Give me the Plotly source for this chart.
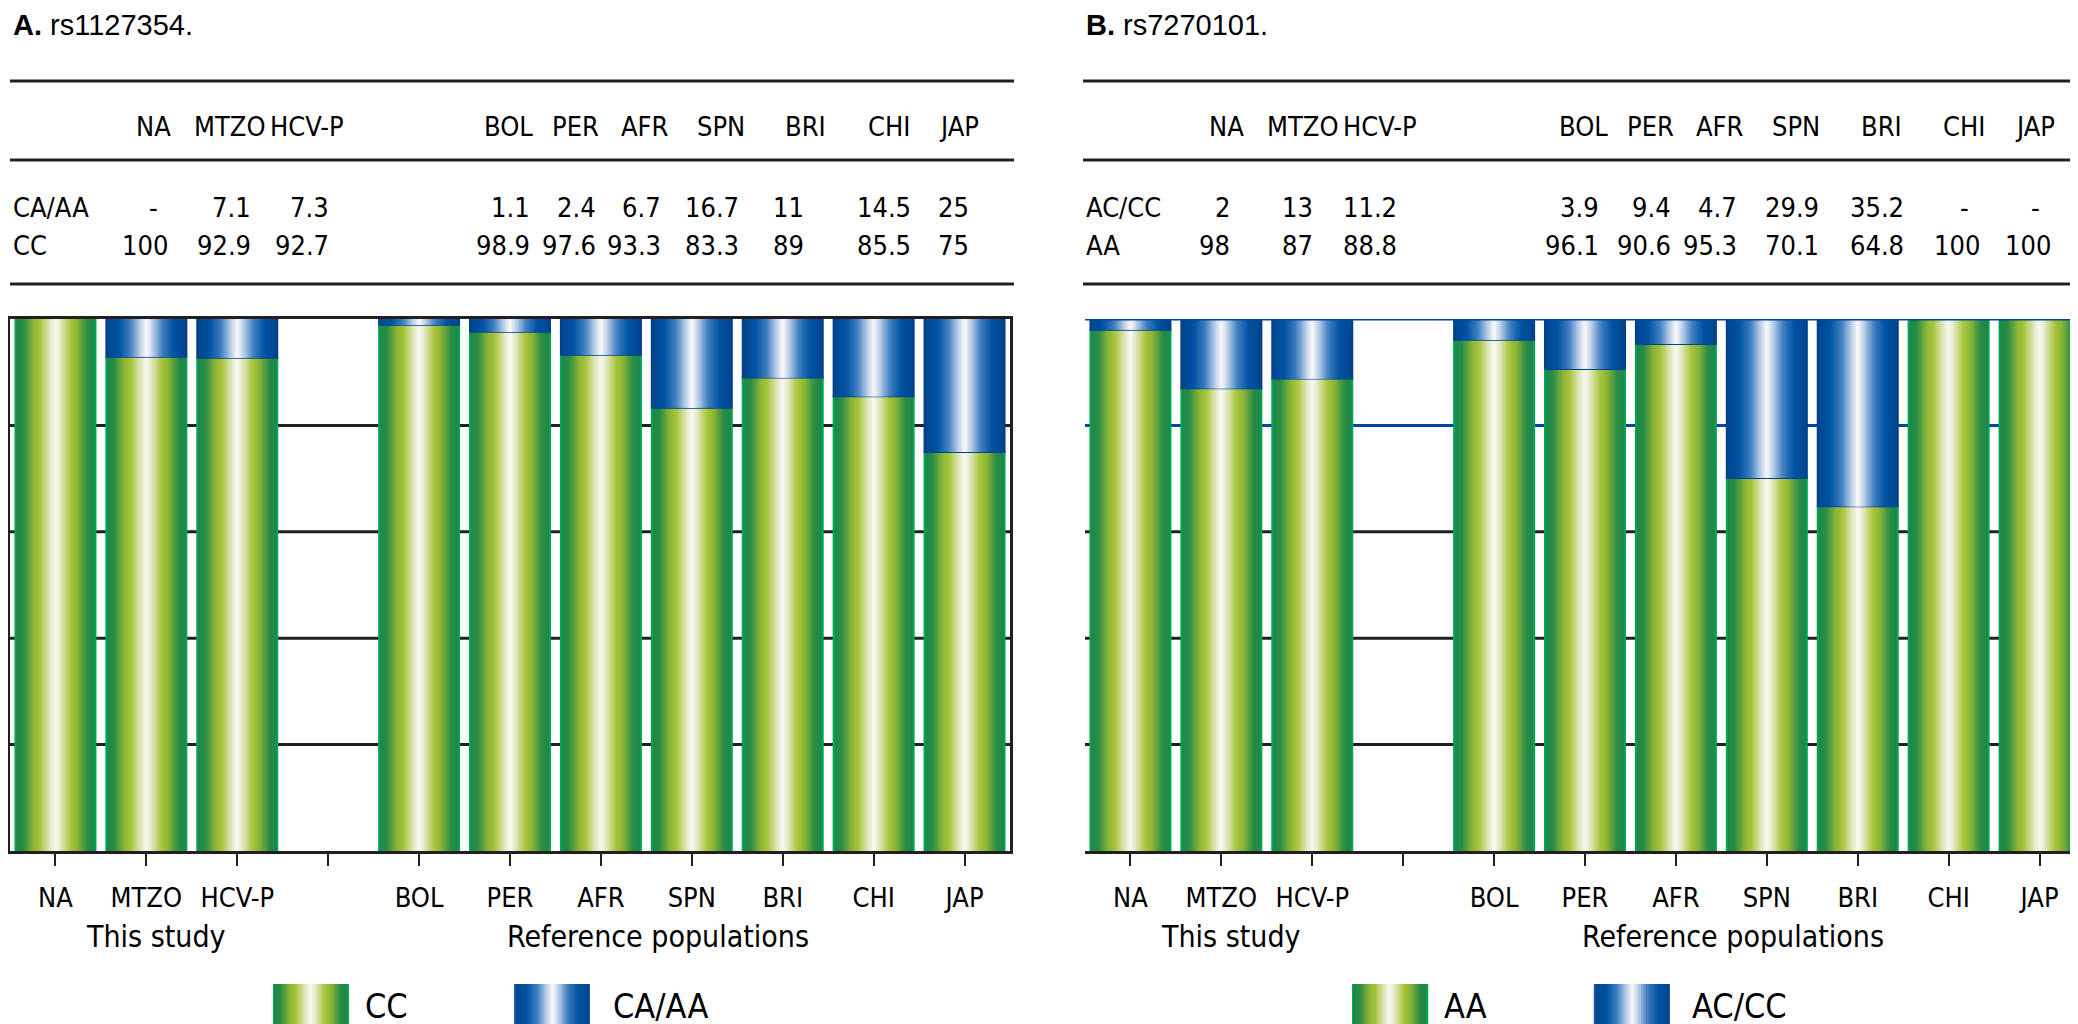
import plotly.graph_objects as go

W, H = 2078, 1024

study_pops = ["NA", "MTZO", "HCV-P"]
ref_pops = ["BOL", "PER", "AFR", "SPN", "BRI", "CHI", "JAP"]
populations = study_pops + ref_pops
gap_slot = " "  # empty slot between the two groups
cat_order = study_pops + [gap_slot] + ref_pops

# rs1127354 genotype frequencies (%), None = "-"
rs1127354_ca_aa = [None, 7.1, 7.3, 1.1, 2.4, 6.7, 16.7, 11, 14.5, 25]
rs1127354_cc = [100, 92.9, 92.7, 98.9, 97.6, 93.3, 83.3, 89, 85.5, 75]

# rs7270101 genotype frequencies (%)
rs7270101_ac_cc = [2, 13, 11.2, 3.9, 9.4, 4.7, 29.9, 35.2, None, None]
rs7270101_aa = [98, 87, 88.8, 96.1, 90.6, 95.3, 70.1, 64.8, 100, 100]

NARROW = "DejaVu Sans Condensed, Liberation Sans, sans-serif"
REGULAR = "Liberation Sans, Arial, sans-serif"
INK = "#231f20"
BLUE_LINE = "#0047a0"

green_stops = [(0, (30, 135, 74)), (0.18, (40, 140, 70)), (0.45, (140, 181, 55)),
               (0.62, (168, 196, 58)), (0.85, (217, 228, 176)), (1, (246, 246, 238))]
blue_stops = [(0, (0, 70, 143)), (0.3, (0, 82, 163)), (0.6, (63, 127, 192)),
              (0.85, (183, 203, 230)), (1, (242, 244, 248))]


def blend(stops, t):
    for (t0, c0), (t1, c1) in zip(stops[:-1], stops[1:]):
        if t <= t1:
            f = (t - t0) / (t1 - t0)
            return "rgb(%d,%d,%d)" % tuple(round(a + (b - a) * f) for a, b in zip(c0, c1))
    return "rgb(%d,%d,%d)" % stops[-1][1]


def gradient_bars(x, y, base, width, stops, edge, xa, ya, n=22):
    # fake a horizontal gradient with narrower bars stacked on top of each other
    out = []
    for k in range(n):
        w = width * (1 - k / n)
        line = dict(color=edge, width=2) if k == 0 else dict(width=0)
        out.append(go.Bar(x=x, y=y, base=base, width=w, xaxis=xa, yaxis=ya,
                          marker=dict(color=blend(stops, k / (n - 1)), line=line),
                          hoverinfo="skip", showlegend=False))
    return out


def px(v):
    return v / W


def py(v):
    return 1 - v / H


def fmt(v):
    return "-" if v is None else f"{v:g}"


panels = [
    dict(title="<b>A.</b> rs1127354.", minor=rs1127354_ca_aa, major=rs1127354_cc,
         minor_name="CA/AA", major_name="CC", x0=2, x1=1002, xa="x", ya="y",
         lx="x3", ly="y3", leg_x0=265, leg_x1=582, tbl_x0=2, tbl_x1=1006,
         grid80=INK,
         head_x=[145, 222, 299, 500, 567, 637, 713, 797, 881, 951],
         val_x=[162, 245, 323, 524, 590, 655, 733, 798, 905, 963]),
    dict(title="<b>B.</b> rs7270101.", minor=rs7270101_ac_cc, major=rs7270101_aa,
         minor_name="AC/CC", major_name="AA", x0=1077, x1=2077, xa="x2", ya="y2",
         lx="x4", ly="y4", leg_x0=1344, leg_x1=1662, tbl_x0=1075, tbl_x1=2078,
         grid80=BLUE_LINE,
         head_x=[1218, 1295, 1372, 1575, 1642, 1712, 1788, 1873, 1956, 2027],
         val_x=[1224, 1307, 1391, 1593, 1665, 1731, 1813, 1898, 1974, 2045]),
]

fig = go.Figure()
annotations = []
shapes = []
BAR_W = 0.88
LEG_W = 0.31
TXT = 27

for i, p in enumerate(panels):
    # stacked bars: major genotype from 0, minor genotype on top
    for tr in gradient_bars(populations, p["major"], 0, BAR_W, green_stops, "#00a651", p["xa"], p["ya"]):
        fig.add_trace(tr)
    for tr in gradient_bars(populations, p["minor"], p["major"], BAR_W, blue_stops, "#003f8a", p["xa"], p["ya"]):
        fig.add_trace(tr)

    # legend swatches
    for tr in gradient_bars([0], [1], 0, LEG_W, green_stops, "#00a651", p["lx"], p["ly"]):
        fig.add_trace(tr)
    for tr in gradient_bars([1], [1], 0, LEG_W, blue_stops, "#1a5aa8", p["lx"], p["ly"]):
        fig.add_trace(tr)

    sfx = "" if i == 0 else "2"
    fig.update_layout(**{
        "xaxis" + sfx: dict(domain=[px(p["x0"]), px(p["x1"])], type="category",
                            categoryorder="array", categoryarray=cat_order,
                            range=[-0.5, len(cat_order) - 0.5],
                            showline=True, linecolor=INK, linewidth=3, mirror=(i == 0),
                            ticks="outside", ticklen=12, tickwidth=2, tickcolor=INK,
                            tickfont=dict(family=NARROW, size=TXT, color="black"),
                            ticklabelstandoff=9, showgrid=False, fixedrange=True),
        "yaxis" + sfx: dict(domain=[py(843), py(311)], range=[0, 100],
                            showline=True, linecolor=INK, linewidth=3, mirror=True,
                            showticklabels=False, ticks="", showgrid=False,
                            zeroline=False, fixedrange=True),
    })
    lsfx = str(3 + i)
    fig.update_layout(**{
        "xaxis" + lsfx: dict(domain=[px(p["leg_x0"]), px(p["leg_x1"])],
                             range=[-LEG_W / 2, 1 + LEG_W / 2], visible=False, fixedrange=True),
        "yaxis" + lsfx: dict(domain=[py(1022), py(976)], range=[0, 1],
                             visible=False, fixedrange=True),
    })

    # gridlines every 20 %
    for g in [20, 40, 60, 80]:
        shapes.append(dict(type="line", xref=p["xa"] + " domain", yref=p["ya"], x0=0, x1=1,
                           y0=g, y1=g, layer="below",
                           line=dict(color=p["grid80"] if g == 80 else INK, width=3)))
    if i == 1:
        shapes.append(dict(type="line", xref=p["xa"] + " domain", yref=p["ya"], x0=0, x1=1,
                           y0=100, y1=100, layer="above", line=dict(color=BLUE_LINE, width=3)))

    # table rules
    for yy in [73, 152, 276]:
        shapes.append(dict(type="line", xref="paper", yref="paper",
                           x0=px(p["tbl_x0"]), x1=px(p["tbl_x1"]), y0=py(yy), y1=py(yy),
                           line=dict(color=INK, width=3)))

    annotations.append(dict(text=p["title"], x=px(p["tbl_x0"] + 1), y=py(17), xref="paper", yref="paper",
                            xanchor="left", yanchor="middle", showarrow=False,
                            font=dict(family=REGULAR, size=29, color="black")))
    for name, hx in zip(populations, p["head_x"]):
        annotations.append(dict(text=name, x=px(hx), y=py(118), xref="paper", yref="paper",
                                xanchor="center", yanchor="middle", showarrow=False,
                                font=dict(family=NARROW, size=TXT, color="black")))
    for row_y, name, vals in [(199, p["minor_name"], p["minor"]), (237, p["major_name"], p["major"])]:
        annotations.append(dict(text=name, x=px(p["tbl_x0"] + 1), y=py(row_y), xref="paper", yref="paper",
                                xanchor="left", yanchor="middle", showarrow=False,
                                font=dict(family=NARROW, size=TXT, color="black")))
        for v, hx, vx in zip(vals, p["head_x"], p["val_x"]):
            annotations.append(dict(text=fmt(v), x=px(hx if v is None else vx), y=py(row_y),
                                    xref="paper", yref="paper",
                                    xanchor="center" if v is None else "right", yanchor="middle",
                                    showarrow=False, font=dict(family=NARROW, size=TXT, color="black")))

    base = p["x0"] - 2
    for label, cx in [("This study", 148), ("Reference populations", 650)]:
        annotations.append(dict(text=label, x=px(base + cx), y=py(928), xref="paper", yref="paper",
                                xanchor="center", yanchor="middle", showarrow=False,
                                font=dict(family=NARROW, size=30, color="black")))
    for label, lx in [(p["major_name"], p["leg_x0"] + 90), (p["minor_name"], p["leg_x0"] + 338)]:
        annotations.append(dict(text=label, x=px(lx), y=py(998), xref="paper", yref="paper",
                                xanchor="left", yanchor="middle", showarrow=False,
                                font=dict(family=NARROW, size=34, color="black")))

fig.update_layout(width=W, height=H, margin=dict(l=0, r=0, t=0, b=0),
                  paper_bgcolor="white", plot_bgcolor="white",
                  barmode="overlay", showlegend=False,
                  annotations=annotations, shapes=shapes)

fig.write_html("out.html")
